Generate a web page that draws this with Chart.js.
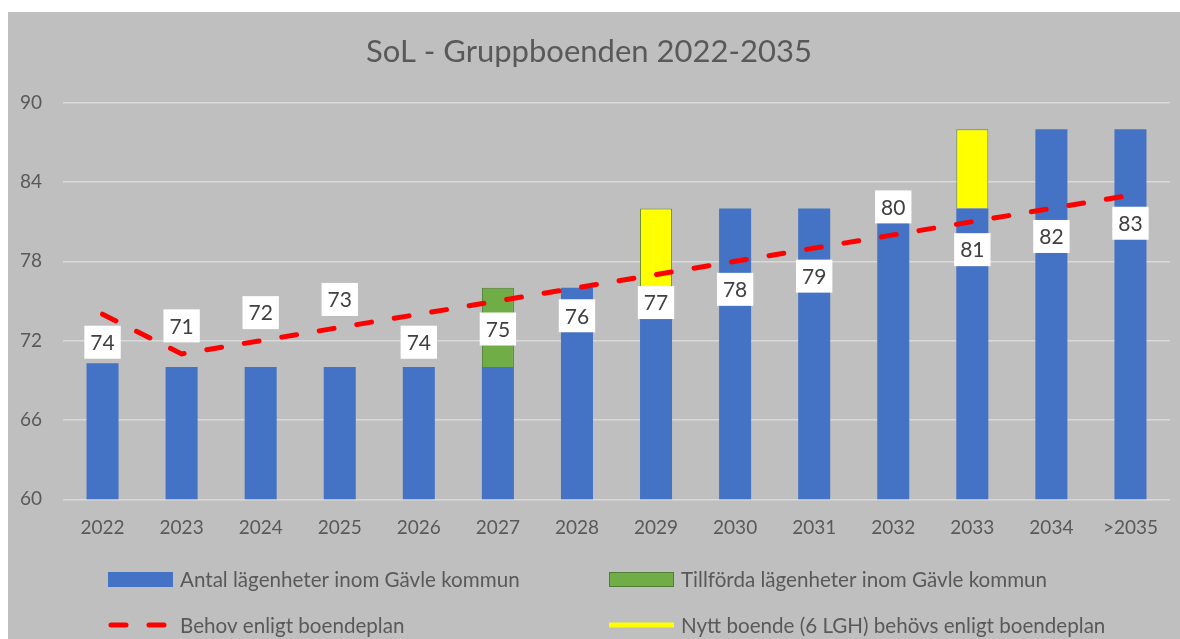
<!DOCTYPE html>
<html><head><meta charset="utf-8">
<script src="https://cdn.jsdelivr.net/npm/chart.js@4.4.1/dist/chart.umd.min.js"></script>
<style>html,body{margin:0;padding:0;background:#fff}canvas{display:block}</style>
</head><body>
<canvas id="c" width="1180" height="639"></canvas>
<script>
const categories = ['2022','2023','2024','2025','2026','2027','2028','2029','2030','2031','2032','2033','2034','>2035'];
const antal      = [70.3, 70, 70, 70, 70, 70, 76, 76, 82, 82, 82, 82, 88, 88];
const tillforda  = [null, null, null, null, null, 6, null, null, null, null, null, null, null, null];
const nyttBoende = [null, null, null, null, null, null, null, 6, null, null, null, 6, null, null];
const behov      = [74, 71, 72, 73, 74, 75, 76, 77, 78, 79, 80, 81, 82, 83];
const yTicks     = [60, 66, 72, 78, 84, 90];
const seriesNames = ['Antal lägenheter inom Gävle kommun','Tillförda lägenheter inom Gävle kommun','Behov enligt boendeplan','Nytt boende (6 LGH) behövs enligt boendeplan'];
const titleText = 'SoL - Gruppboenden 2022-2035';

const FONT = 'Lato, "Open Sans", sans-serif';
const TXT = '#595959';

const bgPlugin = {
  id: 'bg',
  beforeDraw(chart) {
    const ctx = chart.ctx;
    ctx.save();
    ctx.fillStyle = '#ffffff';
    ctx.fillRect(0, 0, chart.width, chart.height);
    ctx.fillStyle = '#bfbfbf';
    ctx.fillRect(8, 12, chart.width - 8, chart.height - 12);
    ctx.restore();
  }
};

const labelPlugin = {
  id: 'lineLabels',
  afterDatasetsDraw(chart, args, opts) {
    const idx = chart.data.datasets.findIndex(d => d.type === 'line');
    const meta = chart.getDatasetMeta(idx);
    const ctx = chart.ctx;
    ctx.save();
    ctx.font = '21px ' + FONT;
    ctx.textAlign = 'center';
    ctx.textBaseline = 'middle';
    meta.data.forEach((pt, i) => {
      const txt = String(chart.data.datasets[idx].data[i]);
      const w = ctx.measureText(txt).width + 12;
      const h = 33;
      const cy = pt.y + (opts.sides[i] === 'above' ? -opts.offset : opts.offset);
      ctx.fillStyle = '#ffffff';
      ctx.fillRect(pt.x - w / 2, cy - h / 2, w, h);
      ctx.fillStyle = '#404040';
      ctx.fillText(txt, pt.x, cy + 1);
    });
    ctx.restore();
  }
};

const legendPlugin = {
  id: 'gridLegend',
  afterDraw(chart, args, opts) {
    const ctx = chart.ctx;
    const ds = chart.data.datasets;
    ctx.save();
    ctx.font = opts.fontSize + 'px ' + FONT;
    ctx.textBaseline = 'middle';
    ctx.textAlign = 'left';
    opts.items.forEach(item => {
      const d = ds[item.ds];
      const x = opts.cols[item.col], y = opts.rows[item.row];
      const sw = opts.symbolWidth;
      if (item.kind === 'box') {
        ctx.fillStyle = d.backgroundColor;
        ctx.fillRect(x, y - 7, sw, 15);
        if (d.borderWidth) { ctx.strokeStyle = d.borderColor; ctx.lineWidth = 1; ctx.strokeRect(x + 0.5, y - 6.5, sw - 1, 14); }
      } else if (item.kind === 'dash') {
        ctx.strokeStyle = d.borderColor; ctx.lineWidth = 5; ctx.lineCap = 'round';
        ctx.setLineDash([15, 23]);
        ctx.beginPath(); ctx.moveTo(x + 3, y); ctx.lineTo(x + sw - 3, y); ctx.stroke();
        ctx.setLineDash([]);
      } else {
        ctx.strokeStyle = d.backgroundColor; ctx.lineWidth = 5; ctx.lineCap = 'butt';
        ctx.beginPath(); ctx.moveTo(x, y); ctx.lineTo(x + sw, y); ctx.stroke();
      }
      ctx.fillStyle = TXT;
      ctx.fillText(d.label, x + sw + opts.gap, y + 1);
    });
    ctx.restore();
  }
};

new Chart(document.getElementById('c'), {
  data: {
    labels: categories,
    datasets: [
      { type: 'bar', label: seriesNames[0], data: antal, backgroundColor: '#4472c4', borderWidth: 0, stack: 'bars', order: 1 },
      { type: 'bar', label: seriesNames[1], data: tillforda, backgroundColor: '#70ad47', borderColor: '#507e32', borderWidth: 1, stack: 'bars', order: 1 },
      { type: 'line', label: seriesNames[2], data: behov, borderColor: '#ff0000', borderWidth: 5, borderDash: [15, 23], borderCapStyle: 'round', pointRadius: 0, tension: 0, fill: false, stack: 'line', order: 0 },
      { type: 'bar', label: seriesNames[3], data: nyttBoende, backgroundColor: '#ffff00', borderColor: '#6f8f2f', borderWidth: 1, stack: 'bars', order: 1 }
    ]
  },
  options: {
    responsive: false,
    animation: false,
    devicePixelRatio: 1,
    layout: { padding: { left: 8, right: 10, top: 12, bottom: 99.7 } },
    datasets: { bar: { categoryPercentage: 1, barPercentage: 0.405 } },
    scales: {
      x: {
        stacked: true,
        grid: { display: false, drawTicks: false },
        border: { display: false },
        ticks: { color: TXT, font: { family: FONT, size: 19 }, padding: 17, maxRotation: 0 },
        afterFit(s) { s.height = 40; }
      },
      y: {
        stacked: true,
        min: 60, max: 90,
        afterBuildTicks(s) { s.ticks = yTicks.map(v => ({ value: v })); },
        grid: { color: '#d9d9d9', lineWidth: 1.5, drawTicks: false },
        border: { display: false },
        ticks: { color: TXT, font: { family: FONT, size: 19 }, padding: 21 },
        afterFit(s) { s.width = 55; }
      }
    },
    plugins: {
      legend: { display: false },
      tooltip: { enabled: false },
      title: { display: true, text: titleText, color: TXT, font: { family: FONT, size: 31, weight: 'normal' }, padding: { top: 21, bottom: 32.5 } },
      lineLabels: { offset: 28, sides: ['below','above','above','above','below','below','below','below','below','below','above','below','below','below'] },
      gridLegend: {
        fontSize: 20.6, symbolWidth: 65, gap: 7,
        cols: [108, 609], rows: [579, 625],
        items: [
          { ds: 0, col: 0, row: 0, kind: 'box' },
          { ds: 1, col: 1, row: 0, kind: 'box' },
          { ds: 2, col: 0, row: 1, kind: 'dash' },
          { ds: 3, col: 1, row: 1, kind: 'line' }
        ]
      }
    }
  },
  plugins: [bgPlugin, labelPlugin, legendPlugin]
});
</script>
</body></html>
